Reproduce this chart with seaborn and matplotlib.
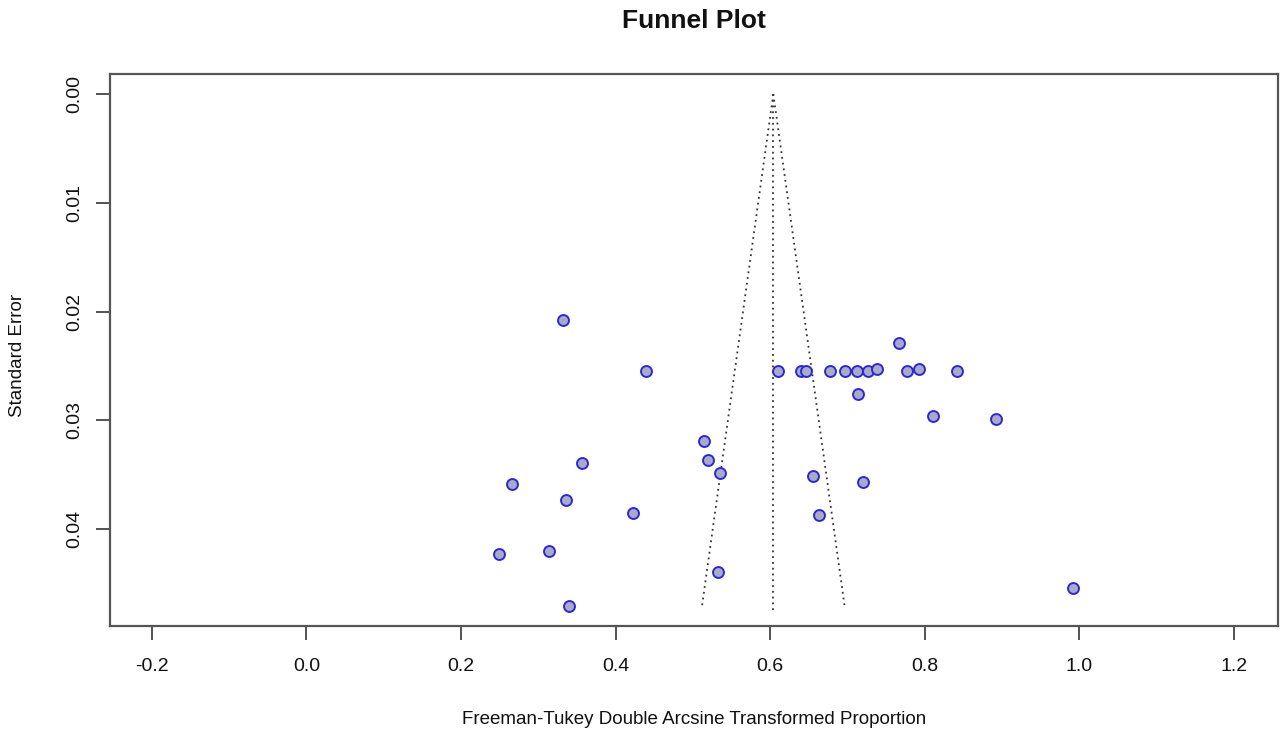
import numpy as np
import pandas as pd
import matplotlib
matplotlib.use("Agg")
import matplotlib.pyplot as plt
import seaborn as sns

# transformed proportion (x) and standard error (y) of each study
ft_prop = [0.3325, 0.4391, 0.5141, 0.5197, 0.5348, 0.3571, 0.2665, 0.3356,
           0.4230, 0.2493, 0.3136, 0.3395, 0.5330, 0.6555, 0.6637, 0.7206,
           0.7131, 0.6100, 0.6397, 0.6462, 0.6775, 0.6969, 0.7120, 0.7270,
           0.7771, 0.8418, 0.7387, 0.7927, 0.7668, 0.8107, 0.8922, 0.9915]
std_err = [0.02080, 0.02546, 0.03189, 0.03363, 0.03486, 0.03394, 0.03584, 0.03731,
           0.03848, 0.04227, 0.04197, 0.04708, 0.04390, 0.03508, 0.03872, 0.03568,
           0.02759, 0.02546, 0.02546, 0.02546, 0.02546, 0.02546, 0.02546, 0.02546,
           0.02546, 0.02546, 0.02527, 0.02527, 0.02290, 0.02956, 0.02984, 0.04537]
pooled = 0.6041

x_ticks = [-0.2, 0.0, 0.2, 0.4, 0.6, 0.8, 1.0, 1.2]
y_ticks = [0.00, 0.01, 0.02, 0.03, 0.04]

df = pd.DataFrame({"TE": ft_prop, "seTE": std_err})

sns.set_theme(style="white")
plt.rcParams["font.family"] = ["Liberation Sans", "DejaVu Sans"]

W, H = 1280, 742
fig = plt.figure(figsize=(W / 100, H / 100), dpi=100)
ax = fig.add_axes([110 / W, 1 - 626 / H, (1278 - 110) / W, (626 - 74) / H])

# funnel (pseudo 95% CI) and pooled estimate
se_max = df["seTE"].max()
se_line = np.array([0.0, se_max])
dots = dict(color="#333333", lw=1.3, dashes=(1, 2.2))
ax.plot(pooled - 1.96 * se_line, se_line, **dots)
ax.plot(pooled + 1.96 * se_line, se_line, **dots)
ax.plot([pooled, pooled], [0, se_max + 0.0003], **dots)

sns.scatterplot(data=df, x="TE", y="seTE", ax=ax, s=62, color="#a9a9c9",
                edgecolor="#2a2ad0", linewidth=1.4, zorder=3)

ax.set_xlim(-0.254, 1.257)
ax.set_ylim(0.04889, -0.00184)
ax.set_xticks(x_ticks)
ax.set_xticklabels([f"{t:.1f}" for t in x_ticks])
ax.set_yticks(y_ticks)
ax.set_yticklabels([f"{t:.2f}" for t in y_ticks], rotation=90, va="center")
ax.tick_params(axis="both", direction="out", length=10, width=1.3,
               color="#444444", labelsize=14, labelcolor="#111111",
               bottom=True, left=True)
ax.tick_params(axis="x", pad=13)
ax.tick_params(axis="y", pad=9)
for sp in ax.spines.values():
    sp.set_color("#555555")
    sp.set_linewidth(1.6)
ax.set_xlabel("")
ax.set_ylabel("")

fig.text(694 / W, 1 - 21 / H, "Funnel Plot", ha="center", va="center",
         fontsize=19, fontweight="bold", color="#111111")
fig.text(694 / W, 1 - 719 / H, "Freeman-Tukey Double Arcsine Transformed Proportion",
         ha="center", va="center", fontsize=13.5, color="#111111")
fig.text(18 / W, 1 - 355 / H, "Standard Error", ha="center", va="center",
         rotation=90, fontsize=13.5, color="#111111")

fig.savefig("out.png", dpi=100, facecolor="white")
